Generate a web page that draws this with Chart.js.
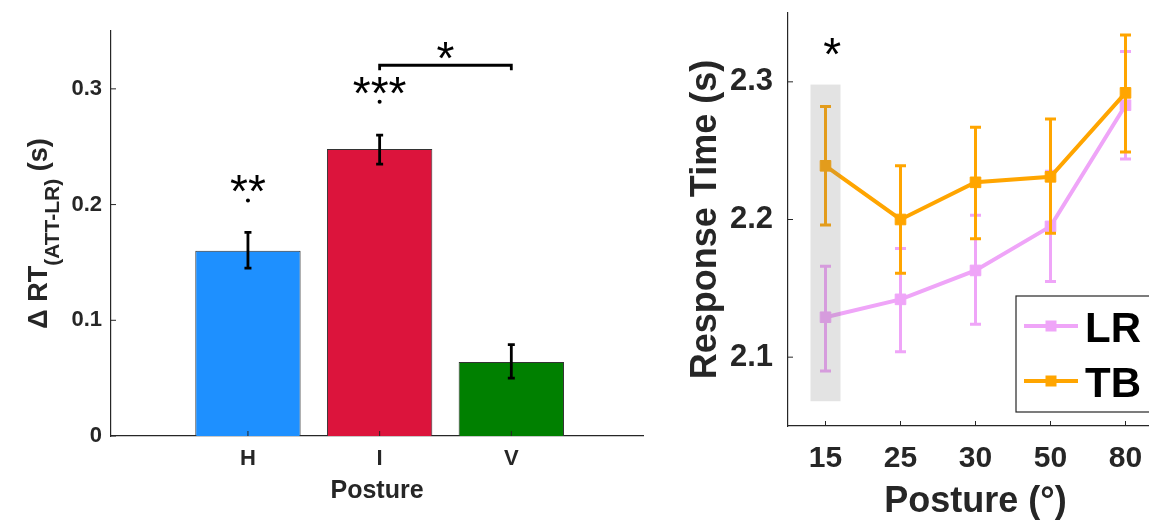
<!DOCTYPE html>
<html>
<head>
<meta charset="utf-8">
<script src="https://cdn.jsdelivr.net/npm/chart.js@4/dist/chart.umd.min.js"></script>
<style>
  html, body { margin: 0; padding: 0; background: #fff; width: 1149px; height: 528px; overflow: hidden; }
  #barChart { position: absolute; left: 0; top: 0; }
  #lineChart { position: absolute; left: 650px; top: 0; }
</style>
</head>
<body>
<canvas id="barChart" width="660" height="528"></canvas>
<canvas id="lineChart" width="513" height="528"></canvas>
<script>
// ---- left panel: delta RT per posture ----
var postures = ['H', 'I', 'V'];
var deltaRT = [0.160, 0.248, 0.064];
var deltaLow = [0.145, 0.235, 0.050];
var deltaHigh = [0.176, 0.260, 0.079];
var barColors = ['#1E90FF', '#DC143C', '#008000'];
var deltaTicks = [0, 0.1, 0.2, 0.3];

// significance marks (data coords)
var sigText = ['**', '***'];
var sigAt = [1, 2];
var sigY = [0.2174, 0.3023];
var sigDotY = [0.2036, 0.2889];
var pairFrom = 2, pairTo = 3, pairY = 0.3204, pairStarY = 0.3328;

// ---- right panel: response time vs posture angle ----
var angles = ['15', '25', '30', '50', '80'];
var lrMean = [2.129, 2.142, 2.163, 2.195, 2.283];
var lrLow  = [2.090, 2.104, 2.124, 2.155, 2.244];
var lrHigh = [2.166, 2.179, 2.203, 2.235, 2.322];
var tbMean = [2.239, 2.200, 2.227, 2.231, 2.292];
var tbLow  = [2.196, 2.161, 2.186, 2.190, 2.249];
var tbHigh = [2.282, 2.239, 2.267, 2.273, 2.334];
var rtTicks = [2.1, 2.2, 2.3];
var shade = { x0: 0.8, x1: 1.2, y0: 2.068, y1: 2.298 };
var rtStar = { x: 1.09, y: 2.325 };

var FONT = '"Liberation Sans", Arial, Helvetica, sans-serif';
var AXIS = '#262626';

// error bars drawn right after each dataset
var errorBars = {
  id: 'errorBars',
  afterDatasetDraw: function (chart, args) {
    var ds = chart.data.datasets[args.index];
    if (!ds.errLow) return;
    var ctx = chart.ctx, xs = chart.scales.x, ys = chart.scales.y;
    var cap = ds.errCap;
    ctx.save();
    ctx.strokeStyle = ds.errColor;
    ctx.lineWidth = ds.errWidth;
    ds.data.forEach(function (p, i) {
      var x = xs.getPixelForValue(p.x);
      var y0 = ys.getPixelForValue(ds.errLow[i]);
      var y1 = ys.getPixelForValue(ds.errHigh[i]);
      ctx.beginPath();
      ctx.moveTo(x, y0); ctx.lineTo(x, y1);
      ctx.moveTo(x - cap, y0); ctx.lineTo(x + cap, y0);
      ctx.moveTo(x - cap, y1); ctx.lineTo(x + cap, y1);
      ctx.stroke();
    });
    ctx.restore();
  }
};

// matlab style inward ticks
var inTicks = {
  id: 'inTicks',
  afterDraw: function (chart) {
    var ctx = chart.ctx, a = chart.chartArea;
    ctx.save();
    ctx.strokeStyle = AXIS;
    ctx.lineWidth = 1;
    ctx.beginPath();
    chart.scales.x.ticks.forEach(function (t) {
      var x = chart.scales.x.getPixelForValue(t.value);
      ctx.moveTo(x, a.bottom); ctx.lineTo(x, a.bottom - 5);
    });
    chart.scales.y.ticks.forEach(function (t) {
      var y = chart.scales.y.getPixelForValue(t.value);
      ctx.moveTo(a.left, y); ctx.lineTo(a.left + 5, y);
    });
    ctx.stroke();
    ctx.restore();
  }
};

function drawStar(ctx, text, x, y, size) {
  ctx.font = size + 'px ' + FONT;
  ctx.textAlign = 'center';
  ctx.textBaseline = 'alphabetic';
  ctx.fillStyle = '#000';
  ctx.fillText(text, x, y + size * 0.5);
}

var barMarks = {
  id: 'barMarks',
  afterDraw: function (chart) {
    var ctx = chart.ctx, xs = chart.scales.x, ys = chart.scales.y, a = chart.chartArea;
    ctx.save();
    sigText.forEach(function (t, i) {
      var x = xs.getPixelForValue(sigAt[i]);
      drawStar(ctx, t, x, ys.getPixelForValue(sigY[i]), 46);
      ctx.beginPath();
      ctx.arc(x, ys.getPixelForValue(sigDotY[i]), 2, 0, Math.PI * 2);
      ctx.fill();
    });
    var bx0 = xs.getPixelForValue(pairFrom), bx1 = xs.getPixelForValue(pairTo);
    var by = ys.getPixelForValue(pairY);
    ctx.strokeStyle = '#000';
    ctx.lineWidth = 2.8;
    ctx.beginPath();
    ctx.moveTo(bx0, by + 5); ctx.lineTo(bx0, by); ctx.lineTo(bx1, by); ctx.lineTo(bx1, by + 5);
    ctx.stroke();
    drawStar(ctx, '*', (bx0 + bx1) / 2, ys.getPixelForValue(pairStarY), 46);

    // y title with subscript
    var main = 'bold 27px ' + FONT, sub = 'bold 21px ' + FONT;
    ctx.font = main;
    var w1 = ctx.measureText('\u0394 RT').width, w3 = ctx.measureText(' (s)').width;
    ctx.font = sub;
    var w2 = ctx.measureText('(ATT-LR)').width;
    ctx.translate(0, (a.top + a.bottom) / 2);
    ctx.rotate(-Math.PI / 2);
    ctx.fillStyle = AXIS;
    ctx.textAlign = 'left';
    ctx.textBaseline = 'alphabetic';
    var p = -(w1 + w2 + w3) / 2;
    ctx.font = main; ctx.fillText('\u0394 RT', p, 47); p += w1;
    ctx.font = sub; ctx.fillText('(ATT-LR)', p, 59); p += w2;
    ctx.font = main; ctx.fillText(' (s)', p, 47);
    ctx.restore();
  }
};

new Chart(document.getElementById('barChart'), {
  type: 'bar',
  data: {
    datasets: [{
      data: postures.map(function (p, i) { return { x: i + 1, y: deltaRT[i] }; }),
      backgroundColor: barColors,
      borderColor: '#333333',
      borderWidth: 1,
      barPercentage: 0.8,
      categoryPercentage: 1,
      errLow: deltaLow, errHigh: deltaHigh,
      errColor: '#000', errWidth: 2.8, errCap: 3.5
    }]
  },
  options: {
    responsive: false,
    animation: false,
    events: [],
    layout: { autoPadding: false, padding: { left: 0, right: 17, top: 31, bottom: 0 } },
    plugins: { legend: { display: false }, tooltip: { enabled: false } },
    scales: {
      x: {
        type: 'linear', min: -0.04, max: 4, offset: false,
        afterBuildTicks: function (s) { s.ticks = postures.map(function (p, i) { return { value: i + 1 }; }); },
        afterFit: function (s) { s.height = 92; s.paddingLeft = 0; s.paddingRight = 0; },
        grid: { display: false, drawTicks: false, offset: false },
        border: { display: true, color: AXIS, width: 1.2 },
        ticks: {
          padding: 10, color: AXIS, font: { family: FONT, size: 22, weight: 'bold' },
          callback: function (v) { return postures[v - 1]; }
        },
        title: { display: true, text: 'Posture', color: AXIS, font: { family: FONT, size: 25, weight: 'bold' }, padding: { top: 0, bottom: 22 } }
      },
      y: {
        min: 0, max: 0.35,
        afterBuildTicks: function (s) { s.ticks = deltaTicks.map(function (v) { return { value: v }; }); },
        afterFit: function (s) { s.width = 111; s.paddingTop = 0; s.paddingBottom = 0; },
        grid: { display: false, drawTicks: false },
        border: { display: true, color: AXIS, width: 1.2 },
        ticks: {
          padding: 9, color: AXIS, font: { family: FONT, size: 22, weight: 'bold' },
          callback: function (v) { return v === 0 ? '0' : v.toFixed(1); }
        }
      }
    }
  },
  plugins: [errorBars, inTicks, barMarks]
});

var lineMarks = {
  id: 'lineMarks',
  afterDatasetsDraw: function (chart) {
    var ctx = chart.ctx, xs = chart.scales.x, ys = chart.scales.y;
    var x0 = xs.getPixelForValue(shade.x0), x1 = xs.getPixelForValue(shade.x1);
    var y0 = ys.getPixelForValue(shade.y0), y1 = ys.getPixelForValue(shade.y1);
    ctx.save();
    ctx.fillStyle = 'rgba(128,128,128,0.22)';
    ctx.fillRect(x0, y1, x1 - x0, y0 - y1);
    ctx.restore();
  },
  afterDraw: function (chart) {
    var ctx = chart.ctx, xs = chart.scales.x, ys = chart.scales.y;
    ctx.save();
    drawStar(ctx, '*', xs.getPixelForValue(rtStar.x), ys.getPixelForValue(rtStar.y), 46);

    // legend box (runs past the right edge like the original)
    ctx.fillStyle = '#fff';
    ctx.strokeStyle = AXIS;
    ctx.lineWidth = 1.2;
    ctx.fillRect(366, 296, 200, 116);
    ctx.strokeRect(366, 296, 200, 116);
    var rows = [326, 381];
    chart.data.datasets.forEach(function (ds, i) {
      var y = rows[i];
      ctx.strokeStyle = ds.borderColor;
      ctx.lineWidth = 4;
      ctx.beginPath(); ctx.moveTo(374, y); ctx.lineTo(428, y); ctx.stroke();
      ctx.fillStyle = ds.borderColor;
      ctx.fillRect(401 - 5.5, y - 5.5, 11, 11);
      ctx.fillStyle = '#000';
      ctx.font = 'bold 42px ' + FONT;
      ctx.textAlign = 'left';
      ctx.textBaseline = 'alphabetic';
      ctx.fillText(ds.label, 435, y + 16);
    });
    ctx.restore();
  }
};

function series(label, color, mean, low, high, order) {
  return {
    label: label,
    data: angles.map(function (a, i) { return { x: i + 1, y: mean[i] }; }),
    borderColor: color, backgroundColor: color,
    borderWidth: 4,
    pointStyle: 'rect', pointRadius: 7.5, pointBorderWidth: 1,
    pointBackgroundColor: color, pointBorderColor: color,
    order: order,
    errLow: low, errHigh: high, errColor: color, errWidth: 3, errCap: 5.5
  };
}

new Chart(document.getElementById('lineChart'), {
  type: 'line',
  data: {
    datasets: [
      series('LR', '#EFA5F8', lrMean, lrLow, lrHigh, 1),
      series('TB', '#FFA500', tbMean, tbLow, tbHigh, 0)
    ]
  },
  options: {
    responsive: false,
    animation: false,
    events: [],
    layout: { autoPadding: false, padding: { left: 0, right: 0, top: 13, bottom: 0 } },
    plugins: { legend: { display: false }, tooltip: { enabled: false } },
    scales: {
      x: {
        type: 'linear', min: 0.5, max: 5.5,
        afterBuildTicks: function (s) { s.ticks = angles.map(function (a, i) { return { value: i + 1 }; }); },
        afterFit: function (s) { s.height = 102; s.paddingLeft = 0; s.paddingRight = 0; },
        grid: { display: false, drawTicks: false },
        border: { display: true, color: AXIS, width: 1.2 },
        ticks: {
          padding: 15, color: AXIS, font: { family: FONT, size: 30, weight: 'bold' },
          callback: function (v) { return angles[v - 1]; }
        },
        title: { display: true, text: 'Posture (\u00b0)', color: AXIS, font: { family: FONT, size: 36, weight: 'bold' }, padding: { top: 0, bottom: 4 } }
      },
      y: {
        min: 2.05, max: 2.35,
        afterBuildTicks: function (s) { s.ticks = rtTicks.map(function (v) { return { value: v }; }); },
        afterFit: function (s) { s.width = 138; s.paddingTop = 0; s.paddingBottom = 0; },
        grid: { display: false, drawTicks: false },
        border: { display: true, color: AXIS, width: 1.2 },
        ticks: {
          padding: 15, color: AXIS, font: { family: FONT, size: 31, weight: 'bold' },
          callback: function (v) { return v.toFixed(1); }
        },
        title: { display: true, text: 'Response Time (s)', color: AXIS, font: { family: FONT, size: 36, weight: 'bold' }, padding: { top: 34, bottom: 0 } }
      }
    }
  },
  plugins: [errorBars, inTicks, lineMarks]
});
</script>
</body>
</html>
